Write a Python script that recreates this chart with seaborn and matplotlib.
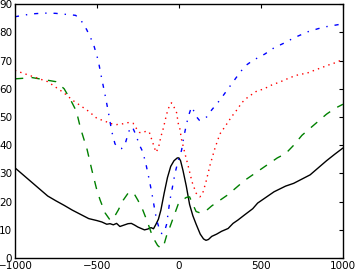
import matplotlib
matplotlib.use('Agg')
import matplotlib.pyplot as plt
import seaborn as sns

# black solid
black_x = [-1000, -950, -900, -850, -800, -750, -700, -650, -600, -550, -500, -470, -440, -420,
           -400, -380, -360, -340, -310, -290, -270, -250, -230, -210, -190, -170, -155, -140,
           -125, -110, -90, -70, -50, -30, -10, 0, 10, 25, 45, 65, 85, 105, 130, 150, 165, 180,
           200, 230, 260, 300, 330, 360, 400, 450, 480, 530, 580, 650, 700, 750, 800, 850, 900,
           950, 1000]
black_y = [32, 29.5, 27, 24.5, 22, 20.3, 18.7, 17, 15.5, 14, 13.3, 12.8, 12, 12.2,
           11.8, 12.3, 11.2, 11.6, 12.2, 12.3, 11.7, 11, 10.5, 10, 10.3, 10.8, 10.4, 12,
           13.8, 17, 23, 28.5, 32.5, 34.5, 35.5, 35.5, 34.5, 31, 25.5, 19, 15, 12, 8.5, 6.8, 6.3, 6.6,
           7.7, 8.5, 9.5, 10.5, 12.3, 13.5, 15.3, 17.5, 19.5, 21.5, 23.5, 25.5, 26.5, 28, 29.5, 32, 34.5,
           36.8, 39]

# green dashed
green_x = [-1000, -950, -900, -850, -800, -750, -700, -660, -625, -600, -560, -530, -500, -480,
           -450, -420, -400, -370, -340, -310, -290, -270, -250, -220, -190, -160, -130, -110,
           -95, -75, -55, -30, -5, 20, 45, 65, 85, 105, 130, 160, 200, 250, 300, 350, 400, 450,
           500, 550, 600, 650, 700, 750, 800, 850, 900, 950, 1000]
green_y = [63.5, 63.7, 64, 63.5, 63, 62.5, 60, 56, 52, 46, 38.5, 31, 24, 20.5,
           16, 13.5, 14, 17, 20.5, 23, 23.5, 22.5, 20.5, 17, 12.5, 7.5, 4.5, 3.5,
           4, 8, 11, 15, 19, 20.5, 21.5, 21.7, 19, 16.5, 16, 16.5, 18.5, 20.5, 22.5, 25, 27.5, 29.5,
           31.5, 33.5, 35.5, 37, 40, 43.5, 46, 48.5, 51, 53, 54.5]

# red dotted
red_x = [-1000, -950, -900, -850, -800, -750, -700, -650, -600, -550, -500, -450, -420, -380,
         -340, -310, -280, -260, -240, -220, -200, -180, -160, -140, -125, -110, -95, -75, -55,
         -45, -30, -14, -4, 5, 16, 37, 57, 80, 105, 128, 145, 165, 190, 220, 250, 280, 320, 360,
         382, 420, 470, 520, 565, 620, 680, 730, 780, 829, 880, 930, 960, 1000]
red_y = [66.5, 65.5, 64.5, 63.5, 62.5, 60.5, 58.5, 56, 54, 52, 49.5, 48.5, 47.7, 47.3,
         47.6, 48, 47.8, 46, 44.5, 44.4, 45, 44.5, 41, 37.5, 39, 43, 46, 51, 54.5,
         55, 53.5, 51.5, 47.7, 46, 42, 37, 32.5, 27, 23, 21.7, 23, 27, 33, 39, 44, 46.5, 50, 53,
         55, 57, 59, 60, 61.3, 62.5, 64, 65, 65.5, 66.6, 67.7, 68.8, 69.3, 70.5]

# blue dash-dot
blue_x = [-1000, -950, -900, -850, -800, -750, -700, -660, -630, -600, -563, -522, -492, -472,
          -451, -431, -410, -390, -370, -350, -330, -310, -295, -280, -265, -240, -220, -200,
          -180, -165, -150, -136, -120, -105, -90, -75, -55, -40, -24, -4, 16, 30, 47, 62, 77,
          92, 108, 125, 138, 155, 169, 200, 250, 300, 350, 402, 450, 524, 580, 646, 700, 787,
          850, 900, 951, 1000]
blue_y = [85.5, 86, 86.5, 86.7, 86.8, 86.7, 86.4, 86.2, 86, 84.5, 81, 76, 70, 64,
          58, 52, 45, 40.5, 39, 38.8, 40, 44, 46.5, 46, 44, 40, 37.6, 33,
          27.5, 23, 18, 13.5, 10.5, 8.7, 9, 12, 20.5, 25, 30, 34.7, 38.2, 43, 47.7, 51, 53.6,
          52, 50, 48.8, 48.9, 49.5, 50, 52.5, 56, 60, 64, 68, 70, 72.3, 74.5, 76.3, 78, 80.2,
          81.3, 82, 82.5, 83]

x_ticks = [-1000, -500, 0, 500, 1000]
y_ticks = [0, 10, 20, 30, 40, 50, 60, 70, 80, 90]

sns.set_style('white')
plt.rcParams['font.family'] = ['DejaVu Sans']

fig, ax = plt.subplots(figsize=(3.55, 2.7), dpi=100)
fig.subplots_adjust(left=0.042, right=0.966, bottom=0.044, top=0.985)

sns.lineplot(x=black_x, y=black_y, color='k', lw=1, ax=ax)
sns.lineplot(x=green_x, y=green_y, color='g', lw=1, linestyle=(0, (6, 6)), ax=ax)
sns.lineplot(x=red_x, y=red_y, color='r', lw=1, linestyle=(0, (1, 3)), ax=ax)
sns.lineplot(x=blue_x, y=blue_y, color='b', lw=1, linestyle=(0, (3, 5, 1, 5)), ax=ax)

ax.set_xlim(-1000, 1000)
ax.set_ylim(0, 90)
ax.set_xticks(x_ticks)
ax.set_yticks(y_ticks)
ax.tick_params(direction='in', top=True, right=True, length=3, width=0.8,
               labelsize=7.5, pad=2, color='k', labelcolor='k')
for s in ax.spines.values():
    s.set_color('k')
    s.set_linewidth(1)

plt.savefig('out.png', dpi=100)
